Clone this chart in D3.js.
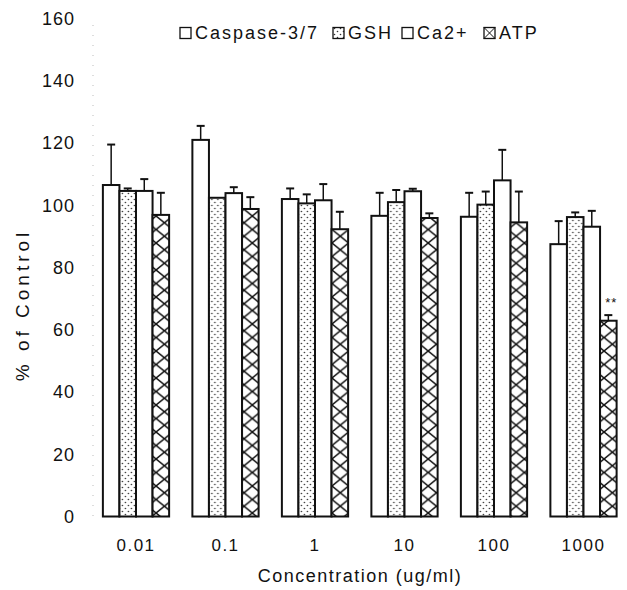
<!DOCTYPE html>
<html>
<head>
<meta charset="utf-8">
<script src="https://cdn.jsdelivr.net/npm/d3@7"></script>
<style>
  html, body { margin: 0; padding: 0; background: #fff; }
  svg { display: block; }
  text { font-family: "Liberation Sans", Arial, sans-serif; fill: #111; }
</style>
</head>
<body>
<svg id="chart" width="627" height="590"></svg>
<script>
const categories = ["0.01", "0.1", "1", "10", "100", "1000"];
const seriesNames = ["Caspase-3/7", "GSH", "Ca2+", "ATP"];
const caspase = [106.5, 121, 102, 96.6, 96.3, 87.5];
const caspaseErr = [13, 4.5, 3.4, 7.4, 7.7, 7.4];
const gsh = [104.6, 102.4, 100.6, 101, 100.2, 96.2];
const gshErr = [0.8, 0, 2.9, 3.9, 4.2, 1.5];
const ca = [104.6, 103.9, 101.6, 104.5, 108, 93.1];
const caErr = [3.8, 1.9, 5.2, 0.8, 9.8, 5.1];
const atp = [96.9, 98.8, 92.3, 95.9, 94.5, 62.9];
const atpErr = [7.1, 3.8, 5.6, 1.5, 9.9, 1.8];
const yTicks = [0, 20, 40, 60, 80, 100, 120, 140, 160];
const annotations = [{ cat: "1000", series: "ATP", text: "**" }];

const values = [caspase, gsh, ca, atp];
const errors = [caspaseErr, gshErr, caErr, atpErr];
const fills = ["plain", "dots", "plain", "cross"];
const legendX = [180, 333, 402, 484];

const svg = d3.select("#chart");
const defs = svg.append("defs");

const y = d3.scaleLinear().domain([0, 160]).range([516.5, 18.5]);
const x0 = d3.scaleBand().domain(categories).range([91.25, 628.25])
  .paddingInner(0.26).paddingOuter(0.13);
const x1 = d3.scaleBand().domain(seriesNames).range([0, x0.bandwidth()]).padding(0);

// patterns
const dots = defs.append("pattern").attr("id", "dots")
  .attr("patternUnits", "userSpaceOnUse").attr("width", 6).attr("height", 6);
dots.append("rect").attr("width", 6).attr("height", 6).attr("fill", "#fff");
dots.append("circle").attr("cx", 1.5).attr("cy", 1.5).attr("r", 0.8).attr("fill", "#333");
dots.append("circle").attr("cx", 4.5).attr("cy", 4.5).attr("r", 0.8).attr("fill", "#333");

function crossPattern(id, xOff) {
  const w = x1.bandwidth(), h = 13.5;
  const p = defs.append("pattern").attr("id", id)
    .attr("patternUnits", "userSpaceOnUse").attr("width", w).attr("height", h)
    .attr("x", xOff).attr("y", 0);
  p.append("rect").attr("width", w).attr("height", h).attr("fill", "#fff");
  p.append("path").attr("d", `M0,0 L${w},${h} M${w},0 L0,${h}`)
    .attr("stroke", "#111").attr("stroke-width", 1.5).attr("fill", "none");
}

// y axis (faint dotted)
svg.append("line").attr("x1", 93).attr("x2", 93)
  .attr("y1", 25).attr("y2", y(0))
  .attr("stroke", "#bbb").attr("stroke-width", 1).attr("stroke-dasharray", "1,9");

svg.append("g").selectAll("text").data(yTicks).join("text")
  .attr("x", 75).attr("y", d => y(d)).attr("dy", "0.35em")
  .attr("text-anchor", "end").attr("font-size", 18).attr("letter-spacing", 1)
  .text(d => d);

// bars
categories.forEach((cat, ci) => {
  const g = svg.append("g").attr("transform", `translate(${x0(cat)},0)`);
  seriesNames.forEach((s, si) => {
    const v = values[si][ci], e = errors[si][ci];
    const bx = x1(s), bw = x1.bandwidth();
    if (e > 0) {
      const cx = bx + bw / 2;
      g.append("line").attr("x1", cx).attr("x2", cx).attr("y1", y(v)).attr("y2", y(v + e))
        .attr("stroke", "#111").attr("stroke-width", 1.5);
      g.append("line").attr("x1", cx - 4).attr("x2", cx + 4).attr("y1", y(v + e)).attr("y2", y(v + e))
        .attr("stroke", "#111").attr("stroke-width", 2);
    }
    let fill = "#fff";
    if (fills[si] === "dots") fill = "url(#dots)";
    if (fills[si] === "cross") {
      const id = "cross" + ci;
      crossPattern(id, x0(cat) + bx);
      fill = `url(#${id})`;
    }
    g.append("rect").attr("x", bx).attr("y", y(v)).attr("width", bw).attr("height", y(0) - y(v))
      .attr("fill", fill).attr("stroke", "#111").attr("stroke-width", 2);
  });
});

// annotations
annotations.forEach(a => {
  const si = seriesNames.indexOf(a.series), ci = categories.indexOf(a.cat);
  const v = values[si][ci] + errors[si][ci];
  svg.append("text").attr("x", x0(a.cat) + x1(a.series) + x1.bandwidth() / 2 + 3)
    .attr("y", y(v) - 8).attr("text-anchor", "middle").attr("font-size", 13)
    .attr("letter-spacing", 1).text(a.text);
});

// x tick labels
svg.append("g").selectAll("text").data(categories).join("text")
  .attr("x", d => x0(d) + x0.bandwidth() / 2).attr("y", 545).attr("dy", "0.35em")
  .attr("text-anchor", "middle").attr("font-size", 17).attr("letter-spacing", 1.5)
  .text(d => d);

// axis titles
svg.append("text").attr("x", 360).attr("y", 576).attr("dy", "0.35em")
  .attr("text-anchor", "middle").attr("font-size", 18).attr("letter-spacing", 1.5)
  .text("Concentration (ug/ml)");
svg.append("text").attr("transform", "translate(22,305) rotate(-90)")
  .attr("dy", "0.35em").attr("text-anchor", "middle").attr("font-size", 19)
  .attr("letter-spacing", 4).text("% of Control");

// legend
const lg = svg.append("g");
seriesNames.forEach((s, si) => {
  const lx = legendX[si];
  let fill = "#fff";
  if (fills[si] === "dots") fill = "url(#dots)";
  lg.append("rect").attr("x", lx).attr("y", 27.5).attr("width", 11).attr("height", 11)
    .attr("fill", fill).attr("stroke", "#111").attr("stroke-width", 1.3);
  if (fills[si] === "cross") {
    lg.append("path").attr("d", `M${lx},27.5 L${lx + 11},38.5 M${lx + 11},27.5 L${lx},38.5`)
      .attr("stroke", "#111").attr("stroke-width", 1);
  }
  lg.append("text").attr("x", lx + 15).attr("y", 33).attr("dy", "0.35em")
    .attr("font-size", 18).attr("letter-spacing", 2).text(s);
});
</script>
</body>
</html>
